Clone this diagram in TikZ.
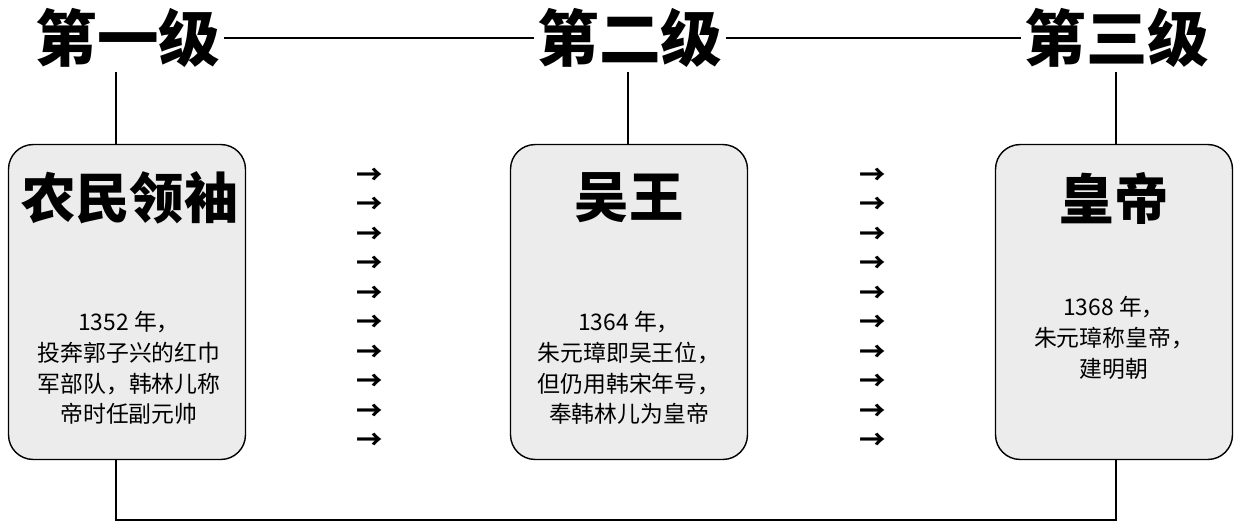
\documentclass[tikz,border=0pt]{standalone}
\usepackage{fontspec}
\setmainfont{Noto Sans CJK SC}
\newfontfamily\cjkbold{Noto Sans CJK SC Black}
\tikzstyle{level} = [font=\cjkbold\fontsize{35}{40}\selectfont, inner sep=2pt]
\tikzstyle{stage} = [rectangle, rounded corners=14pt, minimum width=4.74cm, minimum height=6.3cm, draw=black, thick, fill=gray!15]
\tikzstyle{title} = [font=\cjkbold\fontsize{31}{34}\selectfont]
\tikzstyle{info} = [align=center, font=\fontsize{13}{17.5}\selectfont]
\tikzstyle{tip} = [font=\fontsize{15}{15}\selectfont\bfseries, inner sep=0pt]
\tikzstyle{link} = [thick]
\begin{document}
\begin{tikzpicture}[x=0.02cm, y=-0.02cm]
\useasboundingbox (0,0) rectangle (1248,528);

\node (lv1)[level] at (128,38) {第一级};
\node (lv2)[level] at (630,38) {第二级};
\node (lv3)[level] at (1117,38) {第三级};
\draw [link] (lv1) -- (lv2);
\draw [link] (lv2) -- (lv3);

\node (box1)[stage] at (127,302) {};
\node (box2)[stage] at (629,302) {};
\node (box3)[stage] at (1114,302) {};

\node (t1)[title] at (130,198) {农民领袖};
\node (t2)[title] at (629,198) {吴王};
\node (t3)[title] at (1114,198) {皇帝};

\node (i1)[info] at (129,368) {1352 年，\\投奔郭子兴的红巾\\军部队，韩林儿称\\帝时任副元帅};
\node (i2)[info] at (629,368) {1364 年，\\朱元璋即吴王位，\\但仍用韩宋年号，\\奉韩林儿为皇帝};
\node (i3)[info] at (1114,338) {1368 年，\\朱元璋称皇帝，\\建明朝};

\coordinate (c1) at (116,72);
\coordinate (c2) at (628,72);
\coordinate (c3) at (1116,72);
\draw [link] (c1) -- (c1 |- box1.north);
\draw [link] (c2) -- (c2 |- box2.north);
\draw [link] (c3) -- (c3 |- box3.north);

\foreach \k in {0,...,9} {
  \node (a\k)[tip] at (370,{176+29.5*\k}) {→};
  \node (b\k)[tip] at (873,{176+29.5*\k}) {→};
}

\coordinate (d1) at (116,520);
\coordinate (d3) at (1116,520);
\draw [link] (d1 |- box1.south) -- (d1) -- (d3) -- (d3 |- box3.south);
\end{tikzpicture}
\end{document}
